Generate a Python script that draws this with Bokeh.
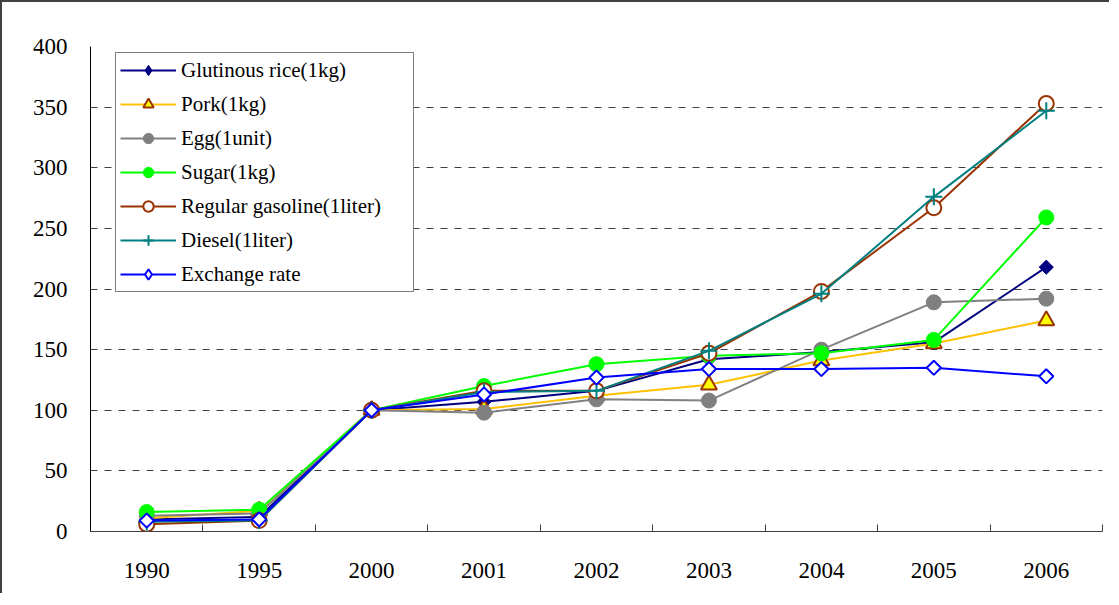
import math
from bokeh.plotting import figure
from bokeh.models import Range1d, FixedTicker, Legend, LegendItem
from bokeh.embed import file_html
from bokeh.resources import INLINE

years = ["1990", "1995", "2000", "2001", "2002", "2003", "2004", "2005", "2006"]
glutinous_rice = [10, 12, 100, 107, 116, 142, 148, 156, 218]
pork = [11, 17, 100, 101, 112, 121, 141, 155, 174]
egg = [13, 15, 100, 98, 109, 108, 150, 189, 192]
sugar = [16, 18, 100, 120, 138, 145, 147, 158, 259]
gasoline = [6, 9, 100, 116, 116, 147, 198, 267, 353]
diesel = [8, 9, 100, 115, 116, 149, 196, 276, 347]
exchange_rate = [9, 10, 100, 113, 127, 134, 134, 135, 128]
y_ticks = [0, 50, 100, 150, 200, 250, 300, 350, 400]

xs = list(range(len(years)))
FONT = "Liberation Serif"

p = figure(width=1109, height=593, output_backend="svg", toolbar_location=None,
           x_range=Range1d(-0.5, len(years) - 0.5), y_range=Range1d(0, 400),
           min_border_left=88, min_border_right=9, min_border_top=44, min_border_bottom=64)
p.styles = {"border-left": "2px solid #404040", "border-top": "2px solid #404040"}
p.outline_line_color = None
p.background_fill_color = "white"
p.border_fill_color = "white"

# x axis: labels at category centres, small inward ticks between categories
p.xaxis.ticker = FixedTicker(ticks=xs, minor_ticks=[i - 0.5 for i in range(len(years) + 1)])
p.xaxis.major_label_overrides = {i: y for i, y in enumerate(years)}
p.xaxis.major_tick_line_color = None
p.xaxis.minor_tick_line_color = "#404040"
p.xaxis.minor_tick_in = 7
p.xaxis.minor_tick_out = 0
p.xaxis.axis_line_color = "#404040"
p.xaxis.major_label_text_font = FONT
p.xaxis.major_label_text_font_size = "23px"
p.xaxis.major_label_text_color = "black"
p.xaxis.major_label_standoff = 25

p.yaxis.ticker = FixedTicker(ticks=y_ticks)
p.yaxis.major_tick_line_color = None
p.yaxis.minor_tick_line_color = None
p.yaxis.axis_line_color = "black"
p.yaxis.major_label_text_font = FONT
p.yaxis.major_label_text_font_size = "23px"
p.yaxis.major_label_text_color = "black"
p.yaxis.major_label_standoff = 17

p.xgrid.grid_line_color = None
p.ygrid.grid_line_color = "#404040"
p.ygrid.grid_line_dash = "7 7"
p.ygrid.grid_line_width = 1

ROT = math.pi / 4
# (label, values, line colour, marker in plot, marker for legend or None)
series = [
    ("Glutinous rice(1kg)", glutinous_rice, "#000080",
     dict(marker="square", size=10, angle=ROT, fill_color="#000080", line_color="#000080", line_width=1),
     dict(marker="diamond", size=16, fill_color="#000080", line_color="#000080", line_width=1)),
    ("Pork(1kg)", pork, "#FFC000",
     dict(marker="triangle", size=16, fill_color="#FFFF00", line_color="#993300", line_width=2), None),
    ("Egg(1unit)", egg, "#808080",
     dict(marker="circle", size=15, fill_color="#808080", line_color="#808080", line_width=1), None),
    ("Sugar(1kg)", sugar, "#00FF00",
     dict(marker="circle", size=15, fill_color="#00FF00", line_color="#00FF00", line_width=1), None),
    ("Regular gasoline(1liter)", gasoline, "#993300",
     dict(marker="circle", size=15, fill_color="white", line_color="#993300", line_width=2), None),
    ("Diesel(1liter)", diesel, "#008080",
     dict(marker="cross", size=17, fill_color="#008080", line_color="#008080", line_width=2), None),
    ("Exchange rate", exchange_rate, "#0000FF",
     dict(marker="square", size=10, angle=ROT, fill_color="white", line_color="#0000FF", line_width=2),
     dict(marker="diamond", size=16, fill_color="white", line_color="#0000FF", line_width=2)),
]

items = []
for name, vals, color, mk, leg_mk in series:
    ln = p.line(xs, vals, line_color=color, line_width=2)
    sc = p.scatter(xs, vals, **mk)
    if leg_mk is not None:
        # legend-only glyph (legend ignores marker rotation); nothing drawn in the plot
        leg = p.scatter([float("nan")], [float("nan")], **leg_mk)
        items.append(LegendItem(label=name, renderers=[ln, leg]))
    else:
        items.append(LegendItem(label=name, renderers=[ln, sc]))

legend = Legend(items=items, location=(25, 239), padding=4, spacing=8,
                glyph_width=56, glyph_height=26, label_standoff=5, label_width=228,
                label_text_font=FONT, label_text_font_size="21px", label_text_color="black",
                border_line_color="black", border_line_width=1,
                background_fill_color="white", background_fill_alpha=1, margin=0)
p.add_layout(legend, "center")

open("out.html", "w").write(file_html(p, INLINE))
